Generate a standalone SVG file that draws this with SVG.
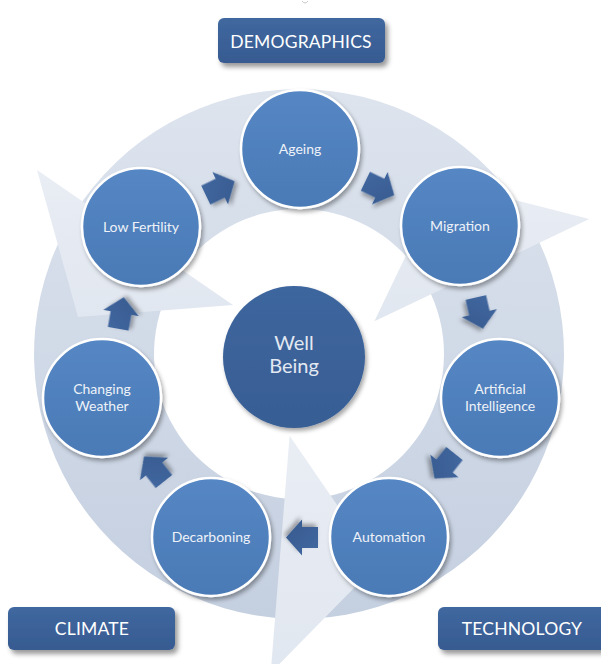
<svg xmlns="http://www.w3.org/2000/svg" width="601" height="664" viewBox="0 0 601 664">
  <defs>
    <style>
      .body { fill: url(#bodyGrad); }
      .head { fill: url(#headGrad); }
      .node { fill: url(#nodeGrad); stroke: #ffffff; stroke-width: 2.5; filter: url(#shadow); }
      .hub { fill: url(#hubGrad); filter: url(#shadow); }
      .box { fill: url(#boxGrad); filter: url(#boxShadow); }
      .flow { fill: url(#flowGrad); filter: url(#shadow); }
      .ntext { font-family: Lato, "Open Sans", "Liberation Sans", sans-serif; font-size: 14px; fill: #eef2f8; text-anchor: middle; }
      .htext { font-family: Lato, "Open Sans", "Liberation Sans", sans-serif; font-size: 20px; fill: #e3e9f2; text-anchor: middle; }
      .btext { font-family: Lato, "Open Sans", "Liberation Sans", sans-serif; font-size: 17.5px; fill: #ffffff; text-anchor: middle; letter-spacing: 0.2px; }
    </style>
    <linearGradient id="bodyGrad" gradientUnits="userSpaceOnUse" x1="0" y1="89" x2="0" y2="619">
      <stop offset="0" stop-color="#dde4ee"/>
      <stop offset="1" stop-color="#c4cfe0"/>
    </linearGradient>
    <linearGradient id="headGrad" x1="0" y1="0" x2="0" y2="1">
      <stop offset="0" stop-color="#e9edf4"/>
      <stop offset="1" stop-color="#e1e7f0"/>
    </linearGradient>
    <linearGradient id="nodeGrad" x1="0" y1="0" x2="0" y2="1">
      <stop offset="0" stop-color="#5587c4"/>
      <stop offset="1" stop-color="#4a7ab6"/>
    </linearGradient>
    <linearGradient id="hubGrad" x1="0" y1="0" x2="0" y2="1">
      <stop offset="0" stop-color="#3e669e"/>
      <stop offset="1" stop-color="#385e94"/>
    </linearGradient>
    <linearGradient id="boxGrad" x1="0" y1="0" x2="0" y2="1">
      <stop offset="0" stop-color="#4068a0"/>
      <stop offset="1" stop-color="#375b91"/>
    </linearGradient>
    <linearGradient id="flowGrad" x1="0" y1="0" x2="1" y2="1">
      <stop offset="0" stop-color="#4269a1"/>
      <stop offset="1" stop-color="#36598e"/>
    </linearGradient>
    <filter id="shadow" x="-30%" y="-30%" width="160%" height="160%">
      <feDropShadow dx="2" dy="3" stdDeviation="2" flood-color="#000000" flood-opacity="0.35"/>
    </filter>
    <filter id="boxShadow" x="-20%" y="-30%" width="140%" height="170%">
      <feDropShadow dx="3" dy="4" stdDeviation="2.5" flood-color="#000000" flood-opacity="0.4"/>
    </filter>
    <path id="flowArrow" d="M-16,-10.5 L0,-10.5 L0,-18 L16,0 L0,18 L0,10.5 L-16,10.5 Z"/>
  </defs>

  <rect width="601" height="664" fill="#ffffff"/>
  <path d="M302,1 Q305,5 308,1" fill="none" stroke="#c8c8c8" stroke-width="1"/>

  <!-- large cycle ring of three curved block arrows -->
  <g id="cycle-ring">
    <path class="body" d="M289.75,618.8 A265,265 0 0 1 62.9,233.7 L169.8,288.2 A145,145 0 0 0 293.94,498.9 Z"/>
    <path class="body" d="M74.3,213.6 A265,265 0 0 1 521.2,209.7 L420.6,275.0 A145,145 0 0 0 176.0,277.2 Z"/>
    <path class="body" d="M533.0,229.6 A265,265 0 0 1 312.9,618.6 L306.6,498.8 A145,145 0 0 0 427.0,285.9 Z"/>
    <polygon class="head" points="37,170 78,317 233,305"/>
    <polygon class="head" points="589.3,219.1 441.5,181.1 374.4,321.3"/>
    <polygon class="head" points="270.7,672.9 377.5,563.9 289.6,435.7"/>
  </g>

  <!-- category labels -->
  <g id="label-demographics">
    <rect class="box" x="218" y="18" width="167" height="45" rx="6"/>
    <text class="btext" x="301" y="48">DEMOGRAPHICS</text>
  </g>
  <g id="label-climate">
    <rect class="box" x="8" y="607" width="167" height="43" rx="6"/>
    <text class="btext" x="92" y="635">CLIMATE</text>
  </g>
  <g id="label-technology">
    <rect class="box" x="438" y="607" width="170" height="43" rx="6"/>
    <text class="btext" x="522" y="635">TECHNOLOGY</text>
  </g>

  <!-- flow connectors between nodes -->
  <g id="connectors">
    <use href="#flowArrow" class="flow" transform="translate(379.8,188.2) rotate(25.71)"/>
    <use href="#flowArrow" class="flow" transform="translate(479.4,313.1) rotate(77.14)"/>
    <use href="#flowArrow" class="flow" transform="translate(444.5,466) rotate(128.57)"/>
    <use href="#flowArrow" class="flow" transform="translate(302,537.5) rotate(180)"/>
    <use href="#flowArrow" class="flow" transform="translate(154,469) rotate(231.43)"/>
    <use href="#flowArrow" class="flow" transform="translate(121,313) rotate(280)"/>
    <use href="#flowArrow" class="flow" transform="translate(220.2,188.2) rotate(334.29)"/>
  </g>

  <!-- nodes -->
  <g id="node-wellbeing">
    <circle class="hub" cx="294" cy="357" r="71"/>
    <text class="htext" x="294" y="350">Well</text>
    <text class="htext" x="294" y="373">Being</text>
  </g>
  <g id="node-ageing">
    <circle class="node" cx="300" cy="149" r="59"/>
    <text class="ntext" x="300" y="154">Ageing</text>
  </g>
  <g id="node-migration">
    <circle class="node" cx="460" cy="226" r="59"/>
    <text class="ntext" x="460" y="231">Migration</text>
  </g>
  <g id="node-ai">
    <circle class="node" cx="500" cy="398" r="59"/>
    <text class="ntext" x="500" y="394">Artificial</text>
    <text class="ntext" x="500" y="411">Intelligence</text>
  </g>
  <g id="node-automation">
    <circle class="node" cx="389" cy="537" r="59"/>
    <text class="ntext" x="389" y="542">Automation</text>
  </g>
  <g id="node-decarboning">
    <circle class="node" cx="211" cy="537" r="59"/>
    <text class="ntext" x="211" y="542">Decarboning</text>
  </g>
  <g id="node-changing-weather">
    <circle class="node" cx="102" cy="398" r="59"/>
    <text class="ntext" x="102" y="394">Changing</text>
    <text class="ntext" x="102" y="411">Weather</text>
  </g>
  <g id="node-low-fertility">
    <circle class="node" cx="141" cy="227" r="59"/>
    <text class="ntext" x="141" y="232">Low Fertility</text>
  </g>
</svg>
